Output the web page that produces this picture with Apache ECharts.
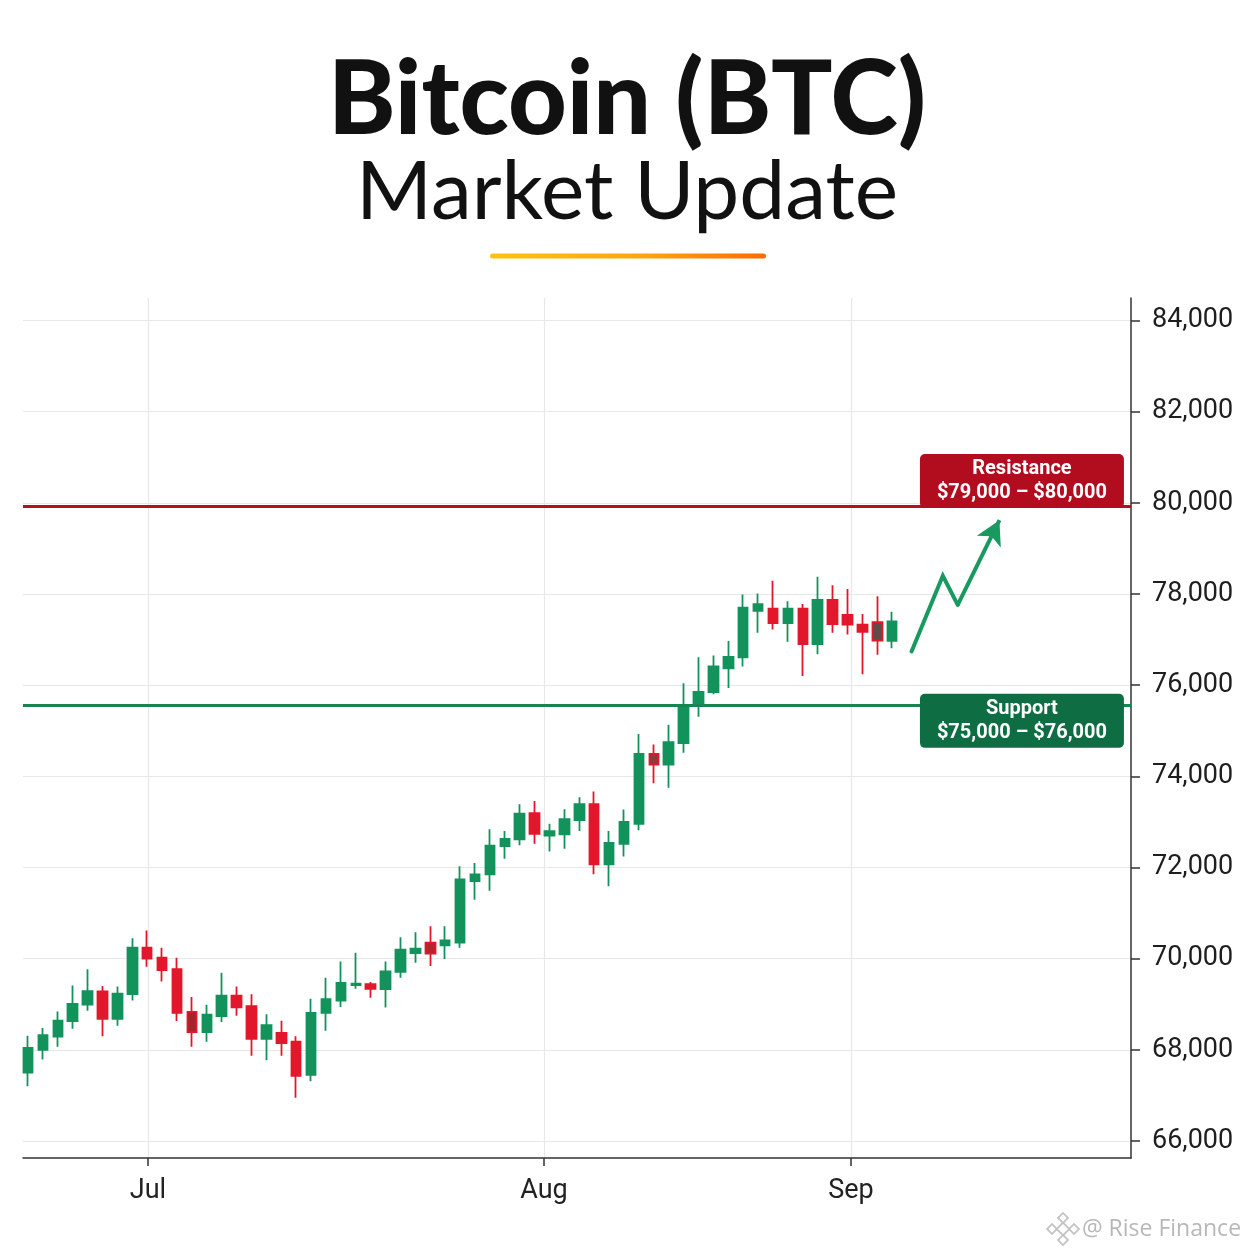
<!DOCTYPE html>
<html>
<head>
<meta charset="utf-8">
<script src="https://cdn.jsdelivr.net/npm/echarts@6/dist/echarts.min.js"></script>
<style>
html,body{margin:0;padding:0;background:#ffffff;}
#chart{width:1254px;height:1254px;}
</style>
</head>
<body>
<div id="chart"></div>
<script>
// ---- Data ----
const candleIndex = [0,1,2,3,4,5,6,7,8,9,10,11,12,13,14,15,16,17,18,19,20,21,22,23,24,25,26,27,28,29,30,31,32,33,34,35,36,37,38,39,40,41,42,43,44,45,46,47,48,49,50,51,52,53,54,55,56,57,58];
const opens  = [67500,68000,68290,68630,68990,69280,68680,69220,70240,70020,69770,68830,68390,68740,69190,68960,68240,68370,68180,67450,68810,69080,69420,69440,69330,69710,70120,70350,70290,70350,71700,71850,72470,72620,73190,72700,72730,73040,73390,72070,72520,72960,74490,74260,74730,75570,75850,76370,76610,77630,77680,77360,77680,76900,77870,77540,77330,77380,76970];
const closes = [68040,68320,68640,69010,69290,68680,69230,70240,70000,69750,68810,68390,68770,69190,68930,68240,68540,68150,67430,68810,69110,69470,69450,69340,69720,70200,70220,70110,70400,71740,71850,72480,72630,73180,72740,72800,73060,73390,72070,72540,73000,74490,74260,74750,75570,75850,76410,76620,77700,77780,77360,77680,76900,77870,77340,77330,77170,76980,77400];
const lows   = [67200,67790,68070,68460,68860,68300,68530,69080,69820,69500,68630,68070,68180,68610,68750,67870,67770,67870,66950,67310,68420,68940,69340,69140,68930,69580,69910,69840,69990,70240,71290,71490,72190,72490,72520,72350,72410,72800,71850,71590,72240,72820,73850,73750,74520,75310,75800,75940,76410,77150,77220,76950,76200,76680,77150,77110,76240,76670,76810];
const highs  = [68310,68480,68840,69410,69770,69400,69390,70450,70620,70240,70020,69160,68990,69690,69390,69220,68780,68640,68300,69120,69580,69940,70130,69490,69940,70470,70580,70710,70710,72030,72100,72840,72800,73390,73460,72960,73280,73540,73670,72800,73270,74930,74700,75130,76040,76610,76650,76970,77990,78010,78290,77840,77780,78380,78190,78110,77560,77950,77610];

const yTickValues = [66000,68000,70000,72000,74000,76000,78000,80000,82000,84000];
const monthLabels = ['Jul','Aug','Sep'];
const monthPositions = [8.05,34.63,55.23];

const resistanceLevel = 79930;
const supportLevel = 75550;
const resistanceText = ['Resistance','$79,000 \u2013 $80,000'];
const supportText = ['Support','$75,000 \u2013 $76,000'];

const projectionX = [59.3,61.4,62.4,65.2];
const projectionY = [76740,78400,77760,79620];

// ---- Styles ----
const GREEN = '#12935c';
const RED = '#e3172b';
const darkCandles = {11:'#a3252c', 27:'#b8242e', 42:'#8e3a3c', 57:'#5d4d48'};

const candleData = candleIndex.map((x,k)=>{
  const item = {value:[x,opens[k],closes[k],lows[k],highs[k]]};
  if (darkCandles[x]) {
    item.itemStyle = {color:darkCandles[x], color0:darkCandles[x], borderColor:RED, borderColor0:RED};
  }
  return item;
});

const projLine = projectionX.slice(0,3).map((x,k)=>[x,projectionY[k]]);

const chart = echarts.init(document.getElementById('chart'), null, {renderer:'canvas'});

const labelRich = {
  a:{fontFamily:'Roboto',fontWeight:'bold',fontSize:20,color:'#ffffff',lineHeight:24,align:'center'},
  b:{fontFamily:'Roboto',fontWeight:'bold',fontSize:20,color:'#ffffff',lineHeight:24,align:'center'}
};

const option = {
  animation:false,
  backgroundColor:'#ffffff',
  grid:{left:23,right:123,top:298,bottom:96,containLabel:false},
  xAxis:{
    type:'value',
    min:-0.336,
    max:74.03,
    axisLine:{show:true,lineStyle:{color:'#333333',width:1.5}},
    axisTick:{show:true,customValues:monthPositions,length:8,lineStyle:{color:'#333333',width:1.5}},
    axisLabel:{
      show:true,
      customValues:monthPositions,
      fontFamily:'Roboto',fontSize:27,color:'#222222',margin:20,
      formatter:function(v){
        let best=0,bd=1e9;
        monthPositions.forEach((p,i)=>{const d=Math.abs(p-v); if(d<bd){bd=d;best=i;}});
        return monthLabels[best];
      }
    },
    splitLine:{show:true,lineStyle:{color:'#e8e8e8',width:1.2}}
  },
  yAxis:{
    type:'value',
    position:'right',
    min:65627,
    max:84494,
    scale:true,
    axisLine:{show:true,onZero:false,lineStyle:{color:'#333333',width:1.5}},
    axisTick:{show:true,customValues:yTickValues,length:9,lineStyle:{color:'#333333',width:1.5}},
    axisLabel:{
      show:true,
      customValues:yTickValues,
      fontFamily:'Roboto',fontSize:27,color:'#1e1e1e',margin:21,
      formatter:function(v){return Math.round(v).toLocaleString('en-US');}
    },
    splitLine:{show:true,lineStyle:{color:'#e8e8e8',width:1.2}}
  },
  series:[
    {
      type:'candlestick',
      name:'BTC',
      encode:{x:0,y:[1,2,3,4]},
      barWidth:10,
      data:candleData,
      itemStyle:{color:GREEN,color0:RED,borderColor:GREEN,borderColor0:RED,borderWidth:1.8},
      markLine:{
        silent:true,
        symbol:['none','none'],
        label:{show:false},
        data:[
          {yAxis:resistanceLevel,lineStyle:{color:'#b4111f',width:3,type:'solid'}},
          {yAxis:supportLevel,lineStyle:{color:'#168552',width:3,type:'solid'}}
        ]
      },
      markPoint:{
        silent:true,
        symbol:'circle',
        symbolSize:1,
        itemStyle:{color:'rgba(0,0,0,0)'},
        data:[
          {
            coord:[66.71,80480],
            label:{show:true,position:'inside',formatter:'{a|'+resistanceText[0]+'}\n{b|'+resistanceText[1]+'}',
              backgroundColor:'#b10d1f',borderRadius:5,padding:[3,10,3,10],width:184,align:'center',rich:labelRich}
          },
          {
            coord:[66.71,75217],
            label:{show:true,position:'inside',formatter:'{a|'+supportText[0]+'}\n{b|'+supportText[1]+'}',
              backgroundColor:'#0f6d43',borderRadius:5,padding:[3,10,3,10],width:184,align:'center',rich:labelRich}
          }
        ]
      }
    },
    {
      type:'line',
      name:'Projection',
      data:projLine,
      showSymbol:false,
      symbol:'none',
      lineStyle:{color:'#17995f',width:4,cap:'round',join:'miter'},
      silent:true,
      markLine:{
        silent:true,
        symbol:['none','arrow'],
        symbolSize:[20,24],
        label:{show:false},
        lineStyle:{color:'#17995f',width:4,type:'solid'},
        data:[[{coord:[projectionX[2],projectionY[2]]},{coord:[projectionX[3],projectionY[3]]}]]
      }
    }
  ],
  graphic:[
    {type:'text',x:627,y:101,style:{text:'Bitcoin (BTC)',font:'900 102px Lato',fill:'#111111',align:'center',verticalAlign:'middle'}},
    {type:'text',x:627,y:192.5,style:{text:'Market Update',font:'400 82px Lato',fill:'#111111',align:'center',verticalAlign:'middle'}},
    {type:'rect',shape:{x:490,y:253.5,width:276,height:5,r:2.5},
      style:{fill:new echarts.graphic.LinearGradient(0,0,1,0,[{offset:0,color:'#ffc20e'},{offset:0.55,color:'#ffa510'},{offset:1,color:'#ff6a00'}])}},
    {type:'group',x:1063,y:1229,children:[
      {type:'rect',rotation:Math.PI/4,shape:{x:-4.5,y:-4.5,width:9,height:9},style:{fill:'none',stroke:'#c4c4c4',lineWidth:1.8}},
      {type:'rect',x:0,y:-11,rotation:Math.PI/4,shape:{x:-3.5,y:-3.5,width:7,height:7},style:{fill:'none',stroke:'#c4c4c4',lineWidth:1.8}},
      {type:'rect',x:0,y:11,rotation:Math.PI/4,shape:{x:-3.5,y:-3.5,width:7,height:7},style:{fill:'none',stroke:'#c4c4c4',lineWidth:1.8}},
      {type:'rect',x:-11,y:0,rotation:Math.PI/4,shape:{x:-3.5,y:-3.5,width:7,height:7},style:{fill:'none',stroke:'#c4c4c4',lineWidth:1.8}},
      {type:'rect',x:11,y:0,rotation:Math.PI/4,shape:{x:-3.5,y:-3.5,width:7,height:7},style:{fill:'none',stroke:'#c4c4c4',lineWidth:1.8}}
    ]},
    {type:'text',x:1082,y:1229,style:{text:'@ Rise Finance',font:'400 23px "Open Sans"',fill:'#b8b8b8',align:'left',verticalAlign:'middle'}}
  ]
};
chart.setOption(option);
</script>
</body>
</html>
